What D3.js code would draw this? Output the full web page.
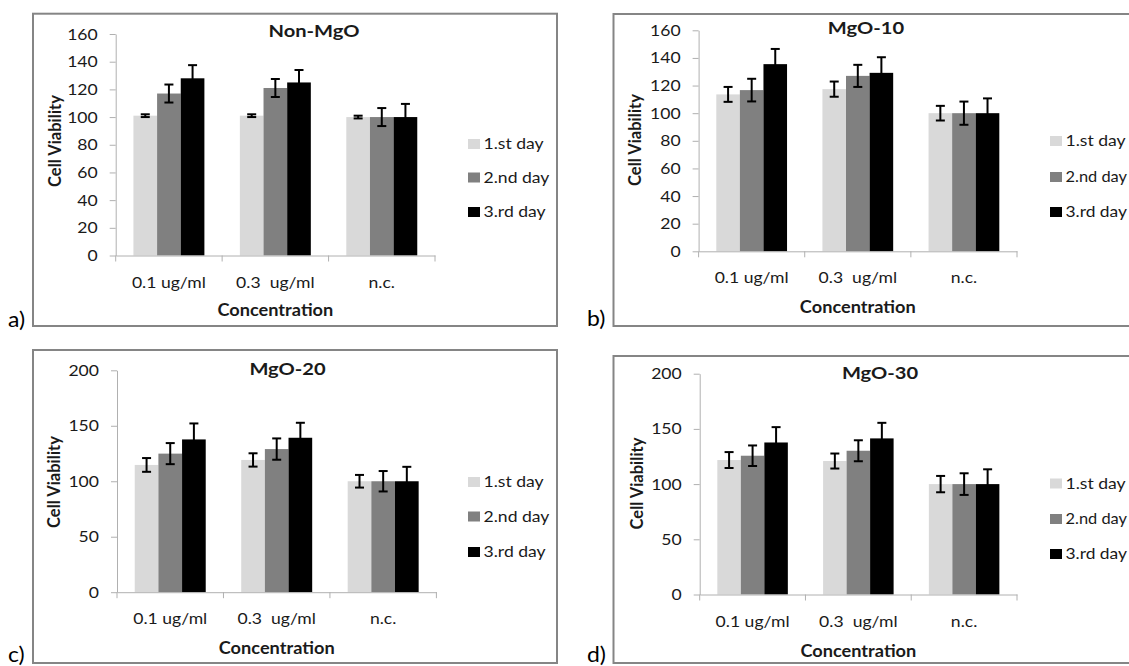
<!DOCTYPE html>
<html><head><meta charset="utf-8">
<script src="https://cdn.jsdelivr.net/npm/d3@7"></script>
<style>
body{margin:0;background:#fff;}
svg{display:block;}
text{font-family:Lato,"Open Sans",sans-serif;}
</style>
</head><body>
<svg id="chart" width="1129" height="666"></svg>
<script>
// ---------- data ----------
const categories = ["0.1 ug/ml", "0.3  ug/ml", "n.c."];
const seriesNames = ["1.st day", "2.nd day", "3.rd day"];
const seriesColors = ["#d9d9d9", "#808080", "#000000"];
const panelTitles = ["Non-MgO", "MgO-10", "MgO-20", "MgO-30"];
const panelTags = ["a)", "b)", "c)", "d)"];
const yTicks160 = [0, 20, 40, 60, 80, 100, 120, 140, 160];
const yTicks200 = [0, 50, 100, 150, 200];
const xAxisTitle = "Concentration";
const yAxisTitle = "Cell Viability";

// values[category][day]
const nonMgOValues = [[101, 117, 128], [101, 121, 125], [100, 100, 100]];
const nonMgOErrors = [[1, 6.5, 9.5], [1, 6.5, 9], [1, 6.5, 9.5]];
const mgo10Values = [[113.6, 116.7, 135.5], [117.4, 127, 129.2], [100, 100, 100]];
const mgo10Errors = [[5.4, 8.2, 11], [5.5, 8, 11.3], [5.3, 8.4, 10.7]];
const mgo20Values = [[114.7, 124.9, 137.7], [119.2, 129, 139.2], [100, 100, 100]];
const mgo20Errors = [[6.2, 9.5, 14.4], [6, 9.6, 13.5], [5.7, 9.2, 13]];
const mgo30Values = [[121.8, 125.7, 137.7], [120.9, 130.2, 141.4], [100, 100, 100]];
const mgo30Errors = [[7.2, 9.3, 13.9], [6.8, 9.5, 14.1], [7.4, 9.8, 13.4]];

// ---------- layout ----------
const layouts = [
  {frame:[33,13.7,557,326], x0:115.7, x1:435, yTop:34, yBot:255.5, title:[314,37], legendX:468, legendY:[144,177.5,212], yLabel:[61,141], catY:288, xTitleY:315.7, tag:[8,327]},
  {frame:[613.5,14,1145,326], x0:698.6, x1:1017, yTop:30.3, yBot:251.3, title:[866,34], legendX:1050, legendY:[141,177,212], yLabel:[641,140], catY:283, xTitleY:313, tag:[587,326]},
  {frame:[33,350,557,663], x0:117, x1:436.4, yTop:370.3, yBot:592.2, title:[287.5,375], legendX:468, legendY:[482,516.5,552], yLabel:[60,482], catY:624, xTitleY:654, tag:[8,662]},
  {frame:[613.5,356,1145,663], x0:699.7, x1:1017, yTop:373.7, yBot:594.5, title:[880,379], legendX:1050, legendY:[483.5,519,554], yLabel:[643,483.5], catY:627, xTitleY:657, tag:[587,662]}
];
const panels = [
  {values:nonMgOValues, errors:nonMgOErrors, ticks:yTicks160},
  {values:mgo10Values, errors:mgo10Errors, ticks:yTicks160},
  {values:mgo20Values, errors:mgo20Errors, ticks:yTicks200},
  {values:mgo30Values, errors:mgo30Errors, ticks:yTicks200}
];

const SX = 1.12;
const TXT = "#1a1a1a";
const W = 1129;
const svg = d3.select("#chart");

function stretch(sel, sx) {
  sel.each(function () {
    const t = d3.select(this);
    const x = +t.attr("x") || 0;
    const prev = t.attr("transform") || "";
    t.attr("transform", `${prev} translate(${x},0) scale(${sx},1) translate(${-x},0)`);
  });
}

panels.forEach((p, i) => {
  const L = layouts[i];
  const g = svg.append("g");
  const yMax = d3.max(p.ticks);
  const y = d3.scaleLinear().domain([0, yMax]).range([L.yBot, L.yTop]);
  const x = d3.scaleBand().domain(categories).range([L.x0, L.x1]).padding(0);
  const xs = d3.scaleBand().domain(seriesNames).range([0, x.bandwidth()]).paddingInner(0).paddingOuter(0.75);

  // frame
  g.append("rect")
    .attr("x", L.frame[0]).attr("y", L.frame[1])
    .attr("width", L.frame[2] - L.frame[0]).attr("height", L.frame[3] - L.frame[1])
    .attr("fill", "none").attr("stroke", "#858585").attr("stroke-width", 2);

  // y axis
  const ya = g.append("g").attr("transform", `translate(${L.x0},0)`)
    .call(d3.axisLeft(y).tickValues(p.ticks).tickSize(6).tickSizeOuter(0).tickPadding(12).tickFormat(d3.format("d")));
  ya.selectAll("path,line").attr("stroke", "#b0b0b0").attr("stroke-width", 1);
  ya.selectAll("text").attr("font-size", 15.7).attr("fill", TXT).attr("font-family", "Lato");
  stretch(ya.selectAll("text"), SX);

  // bars
  const data = [];
  categories.forEach((c, ci) => seriesNames.forEach((s, si) => data.push({c, s, si, v: p.values[ci][si], e: p.errors[ci][si]})));
  g.append("g").selectAll("rect").data(data).join("rect")
    .attr("x", d => x(d.c) + xs(d.s))
    .attr("width", xs.bandwidth())
    .attr("y", d => y(d.v))
    .attr("height", d => y(0) - y(d.v))
    .attr("fill", d => seriesColors[d.si]);

  // x axis
  const xa = g.append("g").attr("transform", `translate(0,${L.yBot})`)
    .call(d3.axisBottom(x).tickSize(0).tickSizeOuter(0));
  xa.select(".domain").attr("stroke", "#b0b0b0");
  xa.selectAll("text").attr("y", L.catY - L.yBot).attr("dy", null)
    .attr("font-size", 15.7).attr("fill", TXT).attr("font-family", "Lato")
    .style("white-space", "pre").attr("xml:space", "preserve");
  stretch(xa.selectAll("text"), SX);
  const bounds = categories.map(c => x(c)).concat([x(categories[categories.length - 1]) + x.bandwidth()]);
  g.append("g").selectAll("line").data(bounds).join("line")
    .attr("x1", d => d).attr("x2", d => d)
    .attr("y1", L.yBot).attr("y2", L.yBot + 6)
    .attr("stroke", "#b0b0b0");

  // error bars
  const eb = g.append("g").attr("stroke", "#000").attr("stroke-width", 2).attr("fill", "none");
  data.forEach(d => {
    const cx = x(d.c) + xs(d.s) + xs.bandwidth() / 2;
    const yHi = y(d.v + d.e), yLo = y(d.v - d.e);
    eb.append("line").attr("x1", cx).attr("x2", cx).attr("y1", yHi).attr("y2", yLo);
    eb.append("line").attr("x1", cx - 4.5).attr("x2", cx + 4.5).attr("y1", yHi).attr("y2", yHi);
    eb.append("line").attr("x1", cx - 4.5).attr("x2", cx + 4.5).attr("y1", yLo).attr("y2", yLo);
  });

  // title
  const t = g.append("text").attr("x", L.title[0]).attr("y", L.title[1])
    .attr("text-anchor", "middle").attr("font-weight", "bold").attr("font-size", 17.5)
    .attr("fill", TXT).text(panelTitles[i]);
  stretch(t, 1.15);

  // axis titles
  const xt = g.append("text").attr("x", (L.x0 + L.x1) / 2).attr("y", L.xTitleY)
    .attr("text-anchor", "middle").attr("font-weight", "bold").attr("font-size", 17)
    .attr("fill", TXT).text(xAxisTitle);
  stretch(xt, 1.07);
  g.append("text").attr("transform", `translate(${L.yLabel[0]},${L.yLabel[1]}) rotate(-90)`)
    .attr("text-anchor", "middle").attr("font-weight", "bold").attr("font-size", 16.5)
    .attr("fill", TXT).text(yAxisTitle);

  // legend
  const lg = g.append("g");
  seriesNames.forEach((s, si) => {
    const cy = L.legendY[si];
    lg.append("rect").attr("x", L.legendX).attr("y", cy - 5).attr("width", 12).attr("height", 10).attr("fill", seriesColors[si]);
    const tx = L.legendX + 15.5;
    const lt = lg.append("text").attr("x", tx).attr("y", cy + 5.5)
      .attr("font-size", 15.7).attr("fill", TXT).text(s);
    const len = lt.node().getComputedTextLength();
    const sx = Math.min(SX, (W - 2 - tx) / len);
    stretch(lt, sx);
  });

  // panel tag
  const tg = g.append("text").attr("x", L.tag[0]).attr("y", L.tag[1])
    .attr("font-family", "Liberation Serif").attr("font-size", 20.5).attr("fill", "#000").text(panelTags[i]);
  stretch(tg, SX);
});
</script>
</body></html>
